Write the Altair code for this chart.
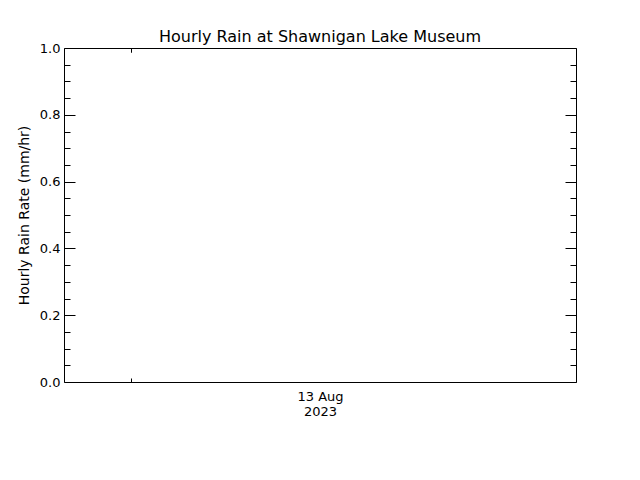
import altair as alt
import pandas as pd

# ---- chart content ----
title_text = "Hourly Rain at Shawnigan Lake Museum"
y_title = "Hourly Rain Rate (mm/hr)"
y_domain = [0.0, 1.0]
y_major_ticks = [0.0, 0.2, 0.4, 0.6, 0.8, 1.0]
y_minor_ticks = [0.05, 0.1, 0.15, 0.25, 0.3, 0.35, 0.45, 0.5, 0.55,
                 0.65, 0.7, 0.75, 0.85, 0.9, 0.95]
x_domain = ["2023-08-12T20:52:00", "2023-08-13T20:52:00"]
x_tick_times = ["2023-08-13T00:00:00"]
x_label_times = ["2023-08-13T08:52:00"]
x_label_formats = ["%d %b", "%Y"]

# no rain recorded in the window
rain_times = []
rain_values = []

FONT = "DejaVu Sans"


def to_dt(s):
    ts = pd.Timestamp(s)
    return alt.DateTime(year=ts.year, month=ts.month, date=ts.day,
                        hours=ts.hour, minutes=ts.minute, utc=True)


data = pd.DataFrame({"time": pd.to_datetime(rain_times, utc=True),
                     "rain": pd.Series(rain_values, dtype=float)})

x_scale = alt.Scale(type="utc", domain=[to_dt(v) for v in x_domain])
y_scale = alt.Scale(domain=y_domain, nice=False, zero=False)

label_expr = "[" + ", ".join(
    f"utcFormat(datum.value, '{f}')" for f in x_label_formats) + "]"

base = alt.Chart(data)

# Layer 1: rain line, major left y ticks with labels, bottom date label
layer_main = base.mark_line(color="black").encode(
    x=alt.X("time:T", scale=x_scale,
            axis=alt.Axis(orient="bottom", values=[to_dt(v) for v in x_label_times],
                          ticks=False, tickSize=0, domain=False, grid=False,
                          labelExpr=label_expr, labelFontSize=13,
                          labelLineHeight=15, labelPadding=8, title=None,
                          labelFlush=False)),
    y=alt.Y("rain:Q", scale=y_scale,
            axis=alt.Axis(orient="left", values=y_major_ticks, format=".1f",
                          offset=-11, tickSize=11, domain=False, grid=False,
                          labelPadding=4, labelFontSize=13, title=y_title,
                          titleFontSize=14, titlePadding=8)),
)

# Layer 2: minor left y ticks, bottom x tick
layer_minor_left = base.mark_point(opacity=0).encode(
    x=alt.X("time:T", scale=x_scale,
            axis=alt.Axis(orient="bottom", values=[to_dt(v) for v in x_tick_times],
                          offset=-4, tickSize=4, labels=False, domain=False,
                          grid=False, title=None)),
    y=alt.Y("rain:Q", scale=y_scale,
            axis=alt.Axis(orient="left", values=y_minor_ticks, offset=-6,
                          tickSize=6, labels=False, domain=False, grid=False,
                          title=None)),
)

# Layer 3: major right y ticks, top x tick
layer_major_right = base.mark_point(opacity=0).encode(
    x=alt.X("time:T", scale=x_scale,
            axis=alt.Axis(orient="top", values=[to_dt(v) for v in x_tick_times],
                          offset=-4, tickSize=4, labels=False, domain=False,
                          grid=False, title=None)),
    y=alt.Y("rain:Q", scale=y_scale,
            axis=alt.Axis(orient="right", values=y_major_ticks, offset=-11,
                          tickSize=11, labels=False, domain=False, grid=False,
                          title=None)),
)

# Layer 4: minor right y ticks
layer_minor_right = base.mark_point(opacity=0).encode(
    x=alt.X("time:T", scale=x_scale,
            axis=alt.Axis(orient="top", values=[to_dt(v) for v in x_tick_times],
                          offset=-4, tickSize=4, labels=False, domain=False,
                          grid=False, title=None)),
    y=alt.Y("rain:Q", scale=y_scale,
            axis=alt.Axis(orient="right", values=y_minor_ticks, offset=-6,
                          tickSize=6, labels=False, domain=False, grid=False,
                          title=None)),
)

chart = alt.layer(
    layer_main, layer_minor_left, layer_major_right, layer_minor_right
).resolve_axis(
    x="independent", y="independent"
).properties(
    width=512,
    height=334,
    autosize="none",
    padding={"left": 56, "top": 40, "right": 56, "bottom": 90},
    title=alt.TitleParams(title_text, fontSize=16, font=FONT,
                          fontWeight="normal", color="black",
                          anchor="middle", frame="group", offset=-3),
).configure_view(
    stroke="black", strokeWidth=1
).configure_axis(
    tickColor="black", tickWidth=1, labelColor="black", titleColor="black",
    labelFont=FONT, titleFont=FONT, titleFontWeight="normal",
)

chart.save("out.html", embed_options={"renderer": "svg", "actions": False})
